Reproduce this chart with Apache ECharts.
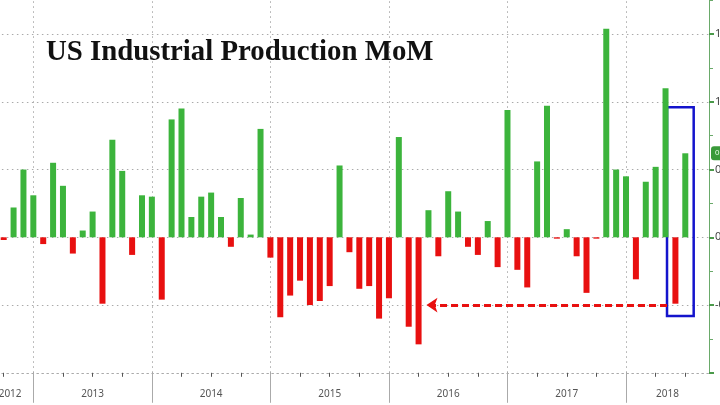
<!DOCTYPE html>
<html>
<head>
<meta charset="utf-8">
<script src="https://cdn.jsdelivr.net/npm/echarts@6/dist/echarts.min.js"></script>
<style>html,body{margin:0;padding:0;background:#fff}#c{width:720px;height:405px}</style>
</head>
<body>
<div id="c"></div>
<script>
var months = ['2012-09','2012-10','2012-11','2012-12',
 '2013-01','2013-02','2013-03','2013-04','2013-05','2013-06','2013-07','2013-08','2013-09','2013-10','2013-11','2013-12',
 '2014-01','2014-02','2014-03','2014-04','2014-05','2014-06','2014-07','2014-08','2014-09','2014-10','2014-11','2014-12',
 '2015-01','2015-02','2015-03','2015-04','2015-05','2015-06','2015-07','2015-08','2015-09','2015-10','2015-11','2015-12',
 '2016-01','2016-02','2016-03','2016-04','2016-05','2016-06','2016-07','2016-08','2016-09','2016-10','2016-11','2016-12',
 '2017-01','2017-02','2017-03','2017-04','2017-05','2017-06','2017-07','2017-08','2017-09','2017-10','2017-11','2017-12',
 '2018-01','2018-02','2018-03','2018-04','2018-05','2018-06'];
var momValues = [-0.02,0.22,0.50,0.31,
 -0.05,0.55,0.38,-0.12,0.05,0.19,-0.49,0.72,0.49,-0.13,0.31,0.30,
 -0.46,0.87,0.95,0.15,0.30,0.33,0.15,-0.07,0.29,0.02,0.80,-0.15,
 -0.59,-0.43,-0.32,-0.50,-0.47,-0.36,0.53,-0.11,-0.38,-0.36,-0.60,-0.45,
 0.74,-0.66,-0.79,0.20,-0.14,0.34,0.19,-0.07,-0.13,0.12,-0.22,0.94,
 -0.24,-0.37,0.56,0.97,-0.01,0.06,-0.14,-0.41,-0.01,1.54,0.50,0.45,
 -0.31,0.41,0.52,1.10,-0.49,0.62];
var yearLabels = ['2012','2013','2014','2015','2016','2017','2018'];
var yTicks = [-1.0,-0.5,0.0,0.5,1.0,1.5,2.0];
var highlightMonths = ['2018-05','2018-06'];
var highlightRange = [-0.58, 0.96];
var arrowFromMonth = '2018-05', arrowToMonth = '2016-03', arrowLevel = -0.5;

var GREEN = '#3cb43c', RED = '#e81010';
var GRIDLINE = { color: '#aaa', type: [1.5, 3.5], width: 1 };
function monthIdx(m){ var p = m.split('-'); return (+p[0]-2012)*12 + (+p[1]-1) - 11; }
var xMin = -4.7, xMax = 68.4;

var barData = months.map(function(m,i){ return [monthIdx(m), momValues[i]]; });
var quarterTicks = months.filter(function(m){ return (+m.split('-')[1]) % 3 === 0; }).map(monthIdx);
var yearBounds = [], yearMid = [], midLabel = {};
yearLabels.forEach(function(y){
  var s = monthIdx((+y-1)+'-12'), e = monthIdx(y+'-12');
  if (s >= xMin) yearBounds.push(s);
  var a = Math.max(s, xMin), b = Math.min(e, xMax);
  var mid = (a+b)/2; yearMid.push(mid); midLabel[mid.toFixed(3)] = y;
});

var chart = echarts.init(document.getElementById('c'));
var hl0 = monthIdx(highlightMonths[0]) - 0.85, hl1 = monthIdx(highlightMonths[1]) + 0.85;
var last = momValues[momValues.length-1];
chart.setOption({
  animation: false,
  title: { text: 'US Industrial Production MoM', left: 46, top: 38.5, padding: 0,
    textStyle: { fontFamily: 'Liberation Serif', fontWeight: 'bold', fontSize: 28.8, color: '#111' } },
  grid: { left: -13.1, right: 11, top: -33.7, bottom: 32.2, outerBoundsMode: 'none', containLabel: false },
  xAxis: [{
    type: 'value', min: xMin, max: xMax, position: 'bottom',
    axisLine: { show: true, onZero: false, lineStyle: GRIDLINE },
    axisTick: { show: true, customValues: quarterTicks, length: 4, lineStyle: { color: '#555' } },
    axisLabel: { show: false }, splitLine: { show: false }
  },{
    type: 'value', min: xMin, max: xMax, position: 'bottom',
    axisLine: { show: false, onZero: false },
    axisTick: { show: true, customValues: yearBounds, length: 30, lineStyle: { color: '#aaa' } },
    axisLabel: { show: true, customValues: yearMid, margin: 16, color: '#555', fontSize: 10, fontFamily: 'Noto Sans',
      hideOverlap: false, showMinLabel: true, showMaxLabel: true,
      formatter: function(v){ return midLabel[v.toFixed(3)] || ''; } },
    splitLine: { show: true, lineStyle: GRIDLINE }
  }],
  yAxis: {
    type: 'value', position: 'right', min: yTicks[0], max: yTicks[yTicks.length-1], interval: 0.5,
    axisLine: { show: true, onZero: false, lineStyle: { color: '#6aaa6a', width: 1 } },
    axisTick: { show: true, length: 5, lineStyle: { color: '#4a9a4a', width: 2 } },
    minorTick: { show: true, splitNumber: 2, length: 4, lineStyle: { color: '#6aaa6a' } },
    axisLabel: { color: '#444', fontSize: 11, margin: 6, fontFamily: 'Noto Sans',
      formatter: function(v){ return v <= -1 ? '' : v.toFixed(1); } },
    splitLine: { show: true, lineStyle: GRIDLINE }
  },
  series: [{
    type: 'bar', xAxisIndex: 0, barWidth: 6,
    data: barData,
    itemStyle: { color: function(p){ return p.value[1] >= 0 ? GREEN : RED; } },
    markArea: { silent: true,
      itemStyle: { color: 'rgba(0,0,0,0)', borderColor: '#1414cc', borderWidth: 2.5 },
      data: [[{ coord: [hl0, highlightRange[1]] }, { coord: [hl1, highlightRange[0]] }]] },
    markLine: { silent: true, symbol: ['none','arrow'], symbolSize: 11, animation: false,
      lineStyle: { color: RED, type: [7,4], width: 3 }, label: { show: false },
      data: [
        [{ coord: [hl0, arrowLevel] }, { coord: [monthIdx(arrowToMonth) + 0.8, arrowLevel] }],
        { yAxis: last, symbol: 'none', lineStyle: { color: 'rgba(0,0,0,0)', width: 0, opacity: 1 },
          label: { show: true, position: 'end', distance: 2, formatter: last.toFixed(1),
            backgroundColor: '#3a9a3a', color: '#e8ffe8', fontSize: 8, padding: [3,4], borderRadius: 3 } }
      ] }
  }]
});
</script>
</body>
</html>
